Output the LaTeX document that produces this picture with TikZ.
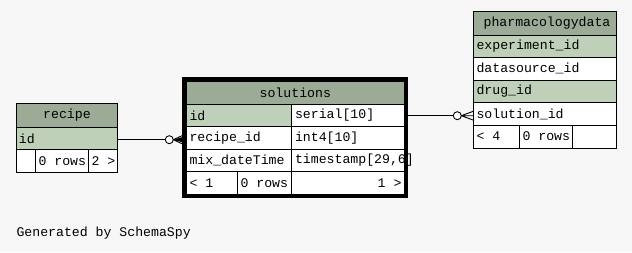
\documentclass[tikz,border=0pt]{standalone}
\usepackage{fontspec}
\setmonofont{Liberation Mono}
\begin{document}
\begin{tikzpicture}[x=1pt,y=-1pt,
  every node/.style={inner sep=0pt,outer sep=0pt,font=\ttfamily\fontsize{13.2}{14}\selectfont},
  hdrfill/.style={fill=hdr,draw=black,line width=0.8pt},
  pkfill/.style={fill=pk,draw=black,line width=0.8pt},
  cellfill/.style={fill=white,draw=black,line width=0.8pt},
  txt/.style={anchor=west},
  ctr/.style={anchor=center},
  rtxt/.style={anchor=east},
  link/.style={line width=0.9pt},
  crow/.style={line width=0.9pt}]
\definecolor{bg}{HTML}{F7F7F7}
\definecolor{hdr}{HTML}{9BAB96}
\definecolor{pk}{HTML}{BED1B8}
\fill[bg] (0,0) rectangle (632,252);
\useasboundingbox (0,0) rectangle (632,252);

% ---- recipe ----
\draw[hdrfill] (16.5,103.5) rectangle (117.5,127.5);
\draw[pkfill] (16.5,127.5) rectangle (117.5,149.5);
\draw[cellfill] (16.5,149.5) rectangle (35.5,172);
\draw[cellfill] (35.5,149.5) rectangle (88.5,172);
\draw[cellfill] (88.5,149.5) rectangle (117.5,172);
\node[ctr] (recipeT) at (67,115.5) {recipe};
\node[txt] (recipeId) at (19,138.5) {id};
\node[txt] (recipeRows) at (38.5,161) {0 rows};
\node[txt] (recipeNext) at (91.5,161) {2 >};
\coordinate (recipeOut) at (117.5,139.7);

% ---- solutions ----
\draw[hdrfill] (186.5,81.7) rectangle (404,104);
\draw[pkfill] (186.5,104) rectangle (291,126.7);
\draw[cellfill] (291,104) rectangle (404,126.7);
\draw[cellfill] (186.5,126.7) rectangle (291,149);
\draw[cellfill] (291,126.7) rectangle (404,149);
\draw[cellfill] (186.5,149) rectangle (291,171.7);
\draw[cellfill] (291,149) rectangle (404,171.7);
\draw[cellfill] (186.5,171.7) rectangle (237.3,194);
\draw[cellfill] (237.3,171.7) rectangle (291,194);
\draw[cellfill] (291,171.7) rectangle (404,194);
\node[ctr] (solT) at (295.3,93) {solutions};
\node[txt] (solId) at (189.5,115.3) {id};
\node[txt] (solIdT) at (295,115.3) {serial[10]};
\node[txt] (solRec) at (189.5,137.8) {recipe\_id};
\node[txt] (solRecT) at (295,137.8) {int4[10]};
\node[txt] (solMix) at (189.5,160.3) {mix\_dateTime};
\node[txt] (solMixT) at (295,160.3) {timestamp[29,6]};
\node[txt] (solPrev) at (189.5,182.8) {< 1};
\node[txt] (solRows) at (240.5,182.8) {0 rows};
\node[rtxt] (solNext) at (401.5,182.8) {1 >};
% selected table: heavy frame drawn over the cells
\draw[line width=4.5pt] (184.3,79.5) rectangle (406.2,196.2);
\coordinate (solIn) at (182,139.7);
\coordinate (solOut) at (408.4,115.7);

% ---- pharmacologydata ----
\draw[hdrfill] (473.5,11.7) rectangle (616.7,35);
\draw[pkfill] (473.5,35) rectangle (616.7,57.3);
\draw[cellfill] (473.5,57.3) rectangle (616.7,80);
\draw[pkfill] (473.5,80) rectangle (616.7,102.7);
\draw[cellfill] (473.5,102.7) rectangle (616.7,125.3);
\draw[cellfill] (473.5,125.3) rectangle (519.3,148);
\draw[cellfill] (519.3,125.3) rectangle (572.7,148);
\draw[cellfill] (572.7,125.3) rectangle (616.7,148);
\node[ctr] (phT) at (547,23.3) {pharmacologydata};
\node[txt] (phExp) at (476.5,46.1) {experiment\_id};
\node[txt] (phDs) at (476.5,68.6) {datasource\_id};
\node[txt] (phDrug) at (476.5,91.3) {drug\_id};
\node[txt] (phSol) at (476.5,114) {solution\_id};
\node[txt] (phPrev) at (476.5,136.6) {< 4};
\node[txt] (phRows) at (522.5,136.6) {0 rows};
\coordinate (phIn) at (473.5,115.7);

% ---- relationships ----
\coordinate (c1) at (169.3,139.7);
\coordinate (c2) at (457.3,115.7);
\draw[link] (recipeOut) -- ([xshift=-4pt]c1);
\draw[link,fill=white] (c1) circle (4pt);
\draw[crow] ([xshift=4pt]c1) -- ([yshift=-4pt]solIn) ([xshift=4pt]c1) -- (solIn) ([xshift=4pt]c1) -- ([yshift=4pt]solIn);
\fill ([xshift=4pt]c1) -- ([yshift=-2.5pt]solIn) -- ([yshift=2.5pt]solIn) -- cycle;
\draw[link] (solOut) -- ([xshift=-4pt]c2);
\draw[link,fill=white] (c2) circle (4pt);
\draw[crow] ([xshift=4pt]c2) -- ([yshift=-4.5pt]phIn) ([xshift=4pt]c2) -- (phIn) ([xshift=4pt]c2) -- ([yshift=4.5pt]phIn);

\node[txt] (credit) at (16.5,233.5) {Generated by SchemaSpy};
\end{tikzpicture}
\end{document}
